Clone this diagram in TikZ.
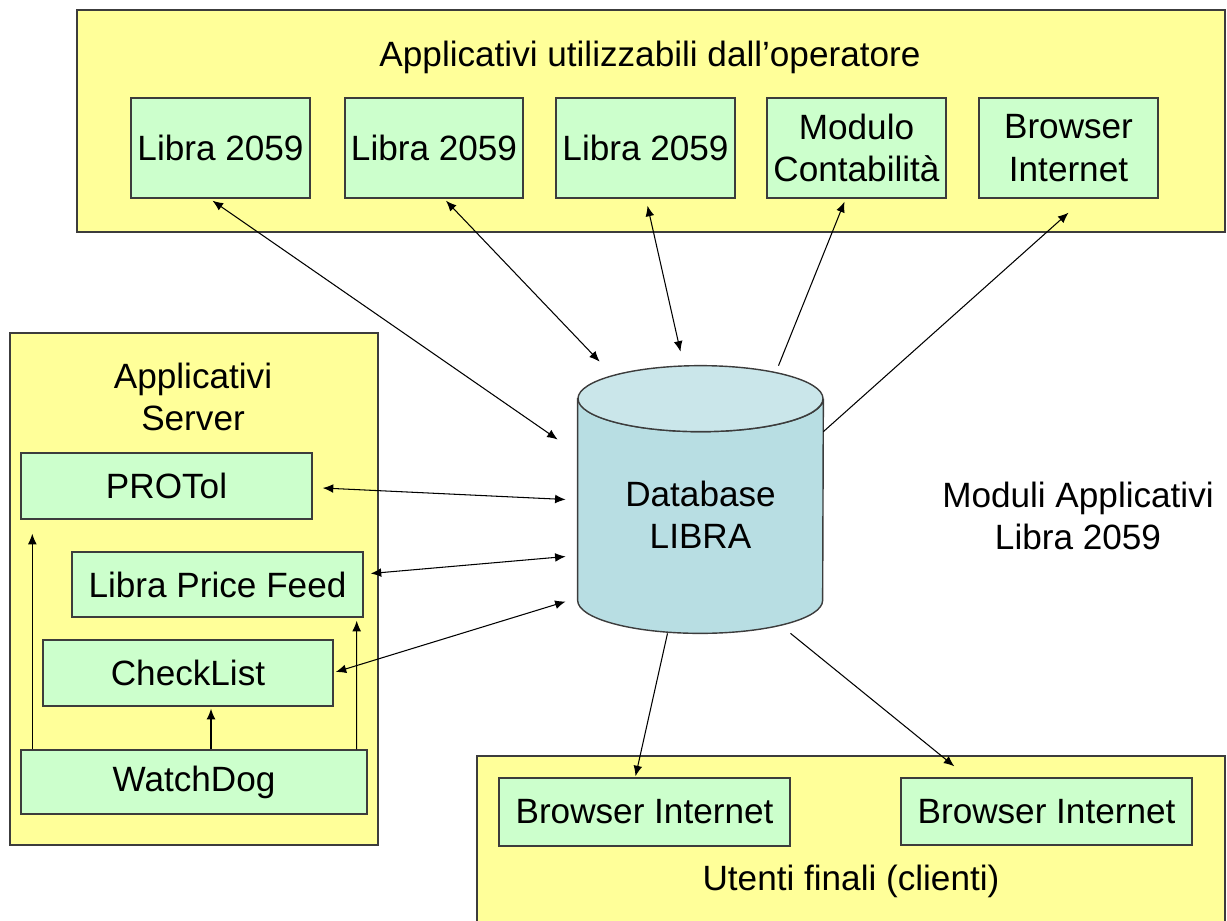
\documentclass[tikz,border=0pt]{standalone}
\usepackage{fontspec}
\setmainfont{Liberation Sans}
\usetikzlibrary{arrows.meta}
\usetikzlibrary{calc}

\definecolor{groupyellow}{RGB}{255,255,153}
\definecolor{appgreen}{RGB}{204,255,204}
\definecolor{dbside}{RGB}{184,222,227}
\definecolor{dbtop}{RGB}{202,230,234}
\definecolor{edgegray}{RGB}{60,60,60}
\newcommand{\pxu}{0.02cm}

\tikzset{
  group/.style={draw=edgegray, fill=groupyellow, line width=0.8pt},
  app/.style={draw=edgegray, fill=appgreen, line width=0.8pt, align=center, inner sep=0pt},
  link/.style={-{Latex[length=6pt,width=5pt]}, line width=0.6pt},
  biglink/.style={{Latex[length=6pt,width=5pt]}-{Latex[length=6pt,width=5pt]}, line width=0.6pt},
}

\begin{document}
\begin{tikzpicture}[x=0.02cm, y=-0.02cm, font=\fontsize{20}{24}\selectfont]
            \useasboundingbox (0,0) rectangle (1227,920);

            \node[group, minimum width=1148*\pxu, minimum height=222*\pxu] (opgroup) at (651,121) {};
            \node[group, minimum width=368*\pxu, minimum height=512*\pxu] (srvgroup) at (194,589) {};
            \node[group, minimum width=748*\pxu, minimum height=180*\pxu] (usrgroup) at (851,846) {};

            \node (optitle) at (650,57) {Applicativi utilizzabili dall'operatore};
            \node[align=center] (srvtitle) at (193,397) {Applicativi\\Server};
            \node (usrtitle) at (851,881) {Utenti finali (clienti)};
            \node[align=center] (modtitle) at (1078,516) {Moduli Applicativi\\Libra 2059};

            \node[app, minimum width=179*\pxu, minimum height=100*\pxu] (lib1) at (220.5,148) {Libra 2059};
            \node[app, minimum width=178*\pxu, minimum height=100*\pxu] (lib2) at (434,148) {Libra 2059};
            \node[app, minimum width=179*\pxu, minimum height=100*\pxu] (lib3) at (645.5,148) {Libra 2059};
            \node[app, minimum width=179*\pxu, minimum height=100*\pxu] (modulo) at (856.5,148) {Modulo\\Contabilità};
            \node[app, minimum width=179*\pxu, minimum height=100*\pxu] (browser) at (1068.5,148) {Browser\\Internet};

            \node[app, minimum width=291*\pxu, minimum height=66*\pxu] (protol) at (166.5,486) {PROTol};
            \node[app, minimum width=291*\pxu, minimum height=65*\pxu] (feed) at (217.5,584.5) {Libra Price Feed};
            \node[app, minimum width=290*\pxu, minimum height=66*\pxu] (check) at (188,673) {CheckList};
            \node[app, minimum width=346*\pxu, minimum height=64*\pxu] (watchdog) at (194,782) {WatchDog};

            \node[app, minimum width=291*\pxu, minimum height=68*\pxu] (client1) at (644.5,812) {Browser Internet};
            \node[app, minimum width=291*\pxu, minimum height=67*\pxu] (client2) at (1046.5,811.5) {Browser Internet};

            \node[minimum width=245*\pxu, minimum height=267*\pxu, inner sep=0pt] (db) at (700.5,499.5) {};
            \filldraw[fill=dbside, draw=edgegray, line width=0.8pt]
              ($(db.north west)+(0,33)$) -- ($(db.south west)+(0,-33)$)
              arc[start angle=180, end angle=360, x radius=122.5*\pxu, y radius=33*\pxu]
              -- ($(db.north east)+(0,33)$)
              arc[start angle=0, end angle=-180, x radius=122.5*\pxu, y radius=33*\pxu] -- cycle;
            \filldraw[fill=dbtop, draw=edgegray, line width=0.8pt]
              ($(db.north)+(0,33)$) ellipse[x radius=122.5*\pxu, y radius=33*\pxu];
            \node[align=center] (dbtext) at ($(db)+(0,15)$) {Database\\LIBRA};

            \draw[biglink] ($(lib1.south)+(-8,2)$) to ($(db.west)+(-20,-60)$);
            \draw[biglink] ($(lib2.south)+(12,2)$) to ($(db.north west)+(22,-4)$);
            \draw[biglink] ($(lib3.south)+(2,7)$) to ($(db.north)+(-20,-14)$);
            \draw[link] ($(db.north)+(78,0)$) to ($(modulo.south)+(-12,3)$);
            \draw[link] ($(db.north east)+(0,66)$) to ($(browser.south)+(0,14)$);

            \draw[biglink] ($(protol.east)+(10,2)$) to ($(db.west)+(-12,0)$);
            \draw[biglink] ($(feed.east)+(7,-11)$) to ($(db.west)+(-12,57)$);
            \draw[biglink] ($(check.east)+(2,-1)$) to ($(db.west)+(-12,102)$);

            \draw[link] ($(db.south)+(-33,0)$) to ($(client1.north)+(-9,-1)$);
            \draw[link] ($(db.south)+(90,0)$) to ($(client2.north west)+(54,-11)$);

            \draw[link] ($(watchdog.north west)+(12,0)$) to ($(protol.south west)+(12,14)$);
            \draw[link] ($(watchdog.north)+(17,0)$) to ($(check.south)+(23,2)$);
            \draw[link] ($(watchdog.north east)+(-11,0)$) to ($(feed.south east)+(-7,3)$);
        \end{tikzpicture}
\end{document}
